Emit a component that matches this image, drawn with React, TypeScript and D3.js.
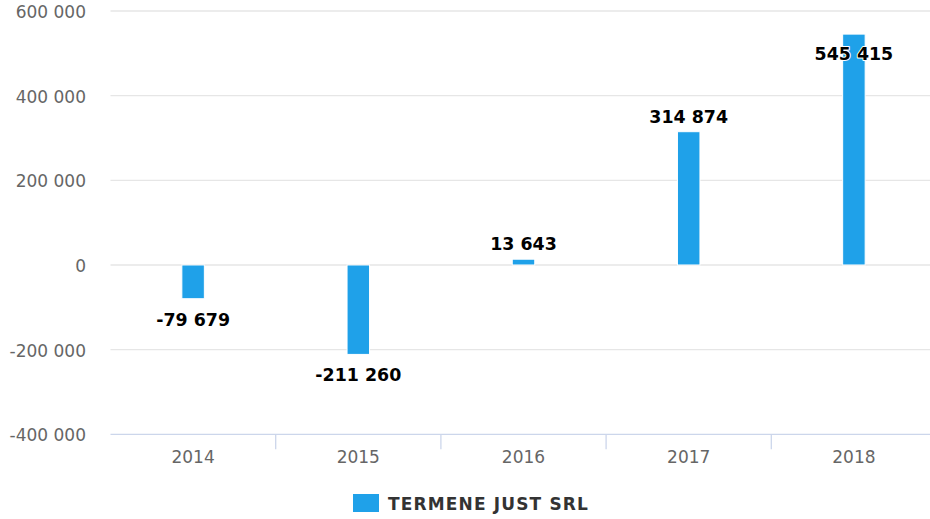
import { useEffect, useRef } from 'react'
import * as d3 from 'd3'

const years = ['2014', '2015', '2016', '2017', '2018']
const profit = [-79679, -211260, 13643, 314874, 545415]
const yTicks = [-400000, -200000, 0, 200000, 400000, 600000]
const seriesName = 'TERMENE JUST SRL'

const fmt = (v: number) => d3.format(',')(v).replace(/,/g, ' ').replace('\u2212', '-')

function App() {
  const ref = useRef<SVGSVGElement>(null)

  useEffect(() => {
    document.body.style.margin = '0'
    const svg = d3.select(ref.current)
    svg.selectAll('*').remove()
    const font = '"DejaVu Sans", Verdana, sans-serif'
    const left = 110.5, right = 936.5, top = 11, bottom = 434.3

    const x = d3.scaleBand().domain(years).range([left, right])
    const y = d3.scaleLinear().domain([-400000, 600000]).range([bottom, top])

    // grid
    svg.append('g').selectAll('line')
      .data(yTicks.filter(t => t !== -400000))
      .enter().append('line')
      .attr('x1', left).attr('x2', 930)
      .attr('y1', d => y(d)).attr('y2', d => y(d))
      .attr('stroke', '#e6e6e6').attr('stroke-width', 1.3)

    // y labels
    svg.append('g').selectAll('text')
      .data(yTicks).enter().append('text')
      .attr('x', 86).attr('y', d => y(d) + 7)
      .attr('text-anchor', 'end')
      .style('font', `17px ${font}`)
      .attr('fill', '#666666')
      .text(d => fmt(d))

    // x axis line + ticks
    svg.append('line')
      .attr('x1', left).attr('x2', 930)
      .attr('y1', bottom).attr('y2', bottom)
      .attr('stroke', '#ccd6eb').attr('stroke-width', 1.3)
    svg.append('g').selectAll('line')
      .data(years.slice(1)).enter().append('line')
      .attr('x1', d => x(d)!).attr('x2', d => x(d)!)
      .attr('y1', bottom).attr('y2', bottom + 15)
      .attr('stroke', '#ccd6eb').attr('stroke-width', 1.3)
    svg.append('g').selectAll('text')
      .data(years).enter().append('text')
      .attr('x', d => x(d)! + x.bandwidth() / 2)
      .attr('y', bottom + 29)
      .attr('text-anchor', 'middle')
      .style('font', `17px ${font}`)
      .attr('fill', '#666666')
      .text(d => d)

    // bars
    const bw = 22.5
    const data = years.map((yr, i) => ({ yr, v: profit[i] }))
    svg.append('g').selectAll('rect')
      .data(data).enter().append('rect')
      .attr('x', d => x(d.yr)! + x.bandwidth() / 2 - bw / 2)
      .attr('y', d => y(Math.max(0, d.v)))
      .attr('width', bw)
      .attr('height', d => Math.abs(y(d.v) - y(0)))
      .attr('fill', '#1fa1e9')
      .attr('stroke', '#ffffff').attr('stroke-width', 1)

    // data labels
    svg.append('g').selectAll('text')
      .data(data).enter().append('text')
      .attr('x', d => x(d.yr)! + x.bandwidth() / 2)
      .attr('y', d => {
        if (d.v < 0) return y(d.v) + 27
        const above = y(d.v) - 9
        return above - 16 < top ? y(d.v) + 26 : above
      })
      .attr('text-anchor', 'middle')
      .style('font', `bold 17.4px ${font}`)
      .attr('fill', '#000000')
      .attr('stroke', '#ffffff').attr('stroke-width', 2)
      .attr('paint-order', 'stroke')
      .attr('stroke-linejoin', 'round')
      .text(d => fmt(d.v))

    // legend
    svg.append('rect')
      .attr('x', 353).attr('y', 494).attr('width', 26).attr('height', 18)
      .attr('fill', '#1fa1e9')
    svg.append('text')
      .attr('x', 388).attr('y', 509.5)
      .style('font', `bold 17px ${font}`)
      .style('letter-spacing', '1.15px')
      .attr('fill', '#333333')
      .text(seriesName)
  }, [])

  return <svg ref={ref} width={930} height={519} style={{ display: 'block' }} />
}

export default App
